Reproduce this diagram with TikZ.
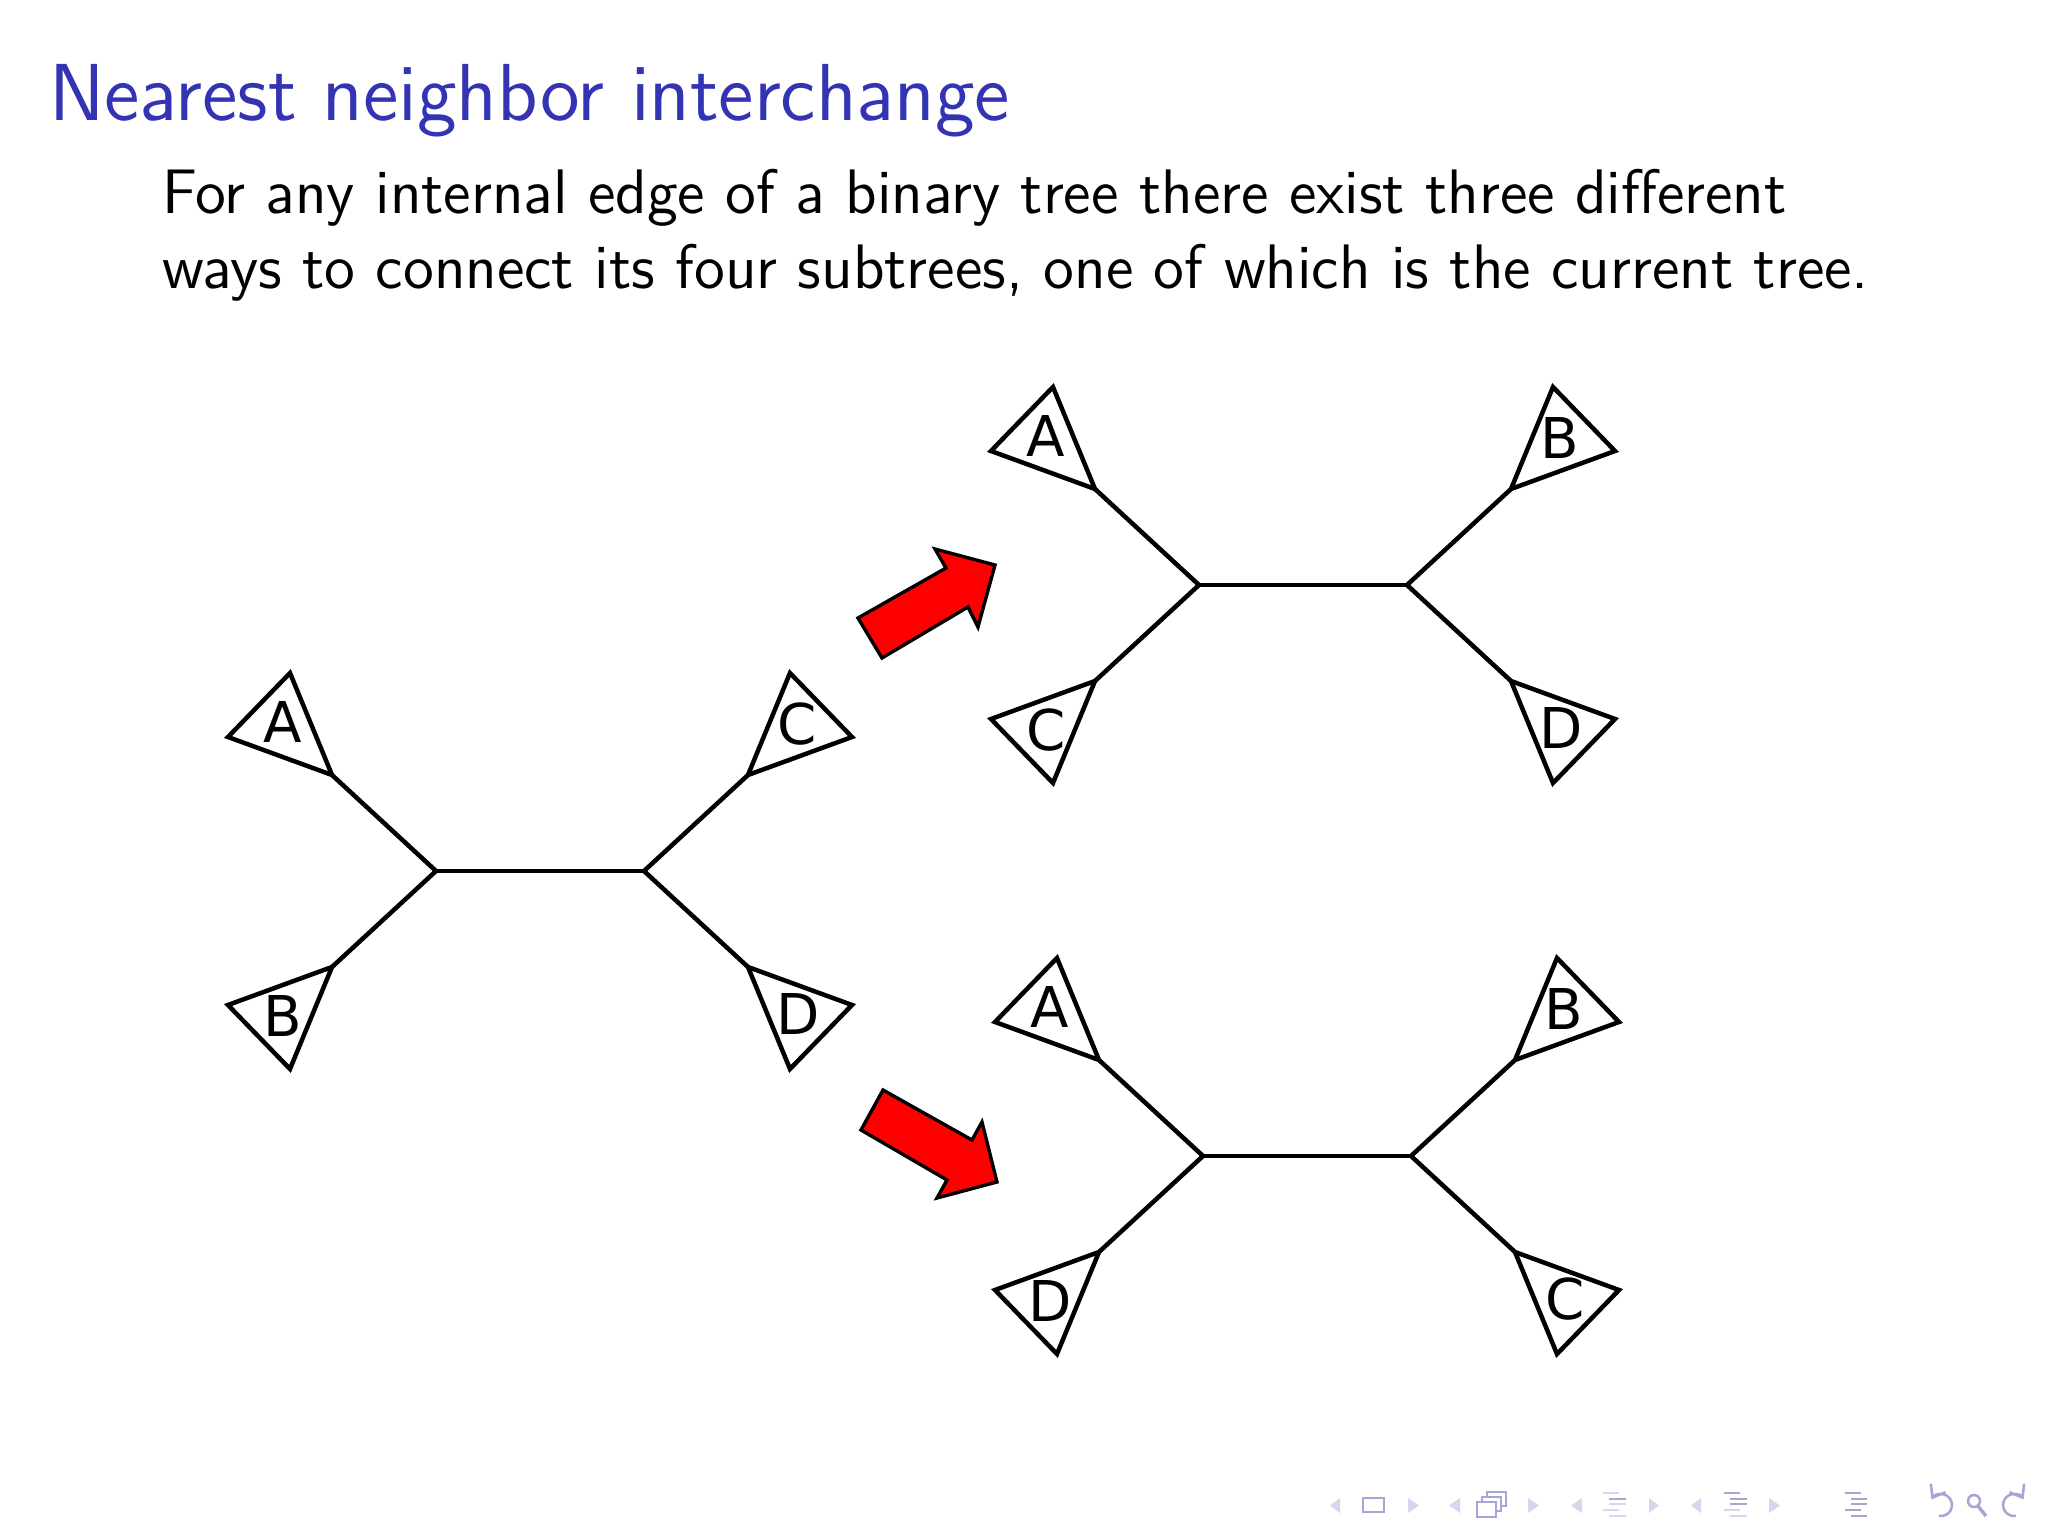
\documentclass[tikz,border=0pt]{standalone}
\usepackage{fontspec}
\newfontfamily\labfont{DejaVu Sans}
\usetikzlibrary{calc,arrows.meta}
\definecolor{beamerblue}{RGB}{51,51,179}
\definecolor{navlight}{RGB}{214,214,238}
\definecolor{navdark}{RGB}{166,166,214}
\definecolor{arrowred}{RGB}{255,0,0}
\tikzset{
  treeline/.style={line width=0.8pt, black},
  subtree/.style={line width=0.8pt, black, line join=miter},
  lab/.style={font=\labfont\fontsize{10}{11}\selectfont, inner sep=0pt},
  redarrow/.style={fill=arrowred, draw=black, line width=0.6pt, line join=miter},
  titletext/.style={font=\sffamily\fontsize{14.38}{17}\selectfont, text=beamerblue, inner sep=0pt, anchor=base west},
  bodytext/.style={font=\sffamily\fontsize{11.18}{13}\selectfont, text=black, inner sep=0pt, anchor=base west},
  navtri/.style={fill=navlight, draw=none},
  navicon/.style={draw=navdark, line width=0.35pt},
  navbar/.style={line width=0.45pt},
}
\newcommand\nnitree[7]{%
  \coordinate (#1L) at (#2,#3);
  \coordinate (#1R) at ({#2+208},#3);
  \coordinate (#1ul) at ({#2-104},{#3-96});
  \coordinate (#1ll) at ({#2-104},{#3+96});
  \coordinate (#1ur) at ({#2+312},{#3-96});
  \coordinate (#1lr) at ({#2+312},{#3+96});
  \draw[treeline] (#1L) -- (#1R);
  \draw[treeline] (#1L) -- (#1ul);
  \draw[treeline] (#1L) -- (#1ll);
  \draw[treeline] (#1R) -- (#1ur);
  \draw[treeline] (#1R) -- (#1lr);
  \draw[subtree] (#1ul) -- ++(-104,-38) -- ++(62,-64) -- cycle;
  \draw[subtree] (#1ll) -- ++(-104,38) -- ++(62,64) -- cycle;
  \draw[subtree] (#1ur) -- ++(104,-38) -- ++(-62,-64) -- cycle;
  \draw[subtree] (#1lr) -- ++(104,38) -- ++(-62,64) -- cycle;
  \node[lab] (#1la) at ($(#1ul)+(-49,-53)$) {#4};
  \node[lab] (#1lb) at ($(#1ll)+(-49,49)$) {#5};
  \node[lab] (#1lc) at ($(#1ur)+(49,-51)$) {#6};
  \node[lab] (#1ld) at ($(#1lr)+(50,47)$) {#7};
}
\begin{document}
\begin{tikzpicture}[x=0.0625mm, y=-0.0625mm]
\useasboundingbox (0,0) rectangle (2048,1536);
\fill[white] (0,0) rectangle (2048,1536);

% title and text
\node[titletext] (title) at (48,120) {Nearest neighbor interchange};
\node[bodytext] (line1) at (161,213) {For any internal edge of a binary tree there exist three different};
\node[bodytext] (line2) at (161,289) {ways to connect its four subtrees, one of which is the current tree.};

% trees
\nnitree{t}{436}{871}{A}{B}{C}{D}
\nnitree{u}{1199}{585}{A}{C}{B}{D}
\nnitree{v}{1203}{1156}{A}{D}{B}{C}

% red arrows
\draw[redarrow] (858,618) -- (946,568) -- (935,549) -- (995,565) -- (978,627) -- (968,607) -- (882,658) -- cycle;
\draw[redarrow] (883,1090) -- (972,1140) -- (982,1122) -- (997,1182) -- (937,1198) -- (947,1180) -- (861,1130) -- cycle;

% navigation symbols
\fill[navtri] (1340,1498) -- (1330,1505.5) -- (1340,1513) -- cycle;
\draw[navicon] (1363,1498) rectangle (1384,1512);
\fill[navtri] (1408,1498) -- (1419,1505.5) -- (1408,1513) -- cycle;
\fill[navtri] (1460,1498) -- (1449,1505.5) -- (1460,1513) -- cycle;
\draw[navicon, fill=white] (1487,1492) rectangle (1506,1506);
\draw[navicon, fill=white] (1482,1497) rectangle (1501,1511);
\draw[navicon, fill=white] (1477,1502) rectangle (1496,1517);
\fill[navtri] (1528,1498) -- (1539,1505.5) -- (1528,1513) -- cycle;
\fill[navtri] (1582,1498) -- (1571,1505.5) -- (1582,1513) -- cycle;
\draw[navbar, navlight] (1603,1493) -- (1619,1493);
\draw[navbar, navdark] (1609,1499) -- (1626,1499);
\draw[navbar, navlight] (1609,1504) -- (1626,1504);
\draw[navbar, navlight] (1603,1510) -- (1619,1510);
\draw[navbar, navlight] (1609,1516) -- (1626,1516);
\fill[navtri] (1649,1498) -- (1659,1505.5) -- (1649,1513) -- cycle;
\fill[navtri] (1701,1498) -- (1691,1505.5) -- (1701,1513) -- cycle;
\draw[navbar, navdark] (1724,1493) -- (1740,1493);
\draw[navbar, navdark] (1730,1499) -- (1747,1499);
\draw[navbar, navdark] (1730,1504) -- (1747,1504);
\draw[navbar, navlight] (1724,1510) -- (1740,1510);
\draw[navbar, navlight] (1730,1516) -- (1747,1516);
\fill[navtri] (1769,1498) -- (1780,1505.5) -- (1769,1513) -- cycle;
\draw[navbar, navdark] (1845,1493) -- (1861,1493);
\draw[navbar, navdark] (1851,1499) -- (1867,1499);
\draw[navbar, navdark] (1851,1504) -- (1867,1504);
\draw[navbar, navdark] (1845,1510) -- (1861,1510);
\draw[navbar, navdark] (1851,1516) -- (1867,1516);
\draw[navicon, line width=0.45pt, {Straight Barb[length=2pt,width=3pt]}-] ($(1941,1505)+(-150:11)$) arc[start angle=-150, end angle=100, radius=11];
\draw[navicon, line width=0.45pt] (1974,1501) circle[radius=6];
\draw[navicon, line width=0.6pt] (1978,1506) -- (1986,1516);
\draw[navicon, line width=0.45pt, {Straight Barb[length=2pt,width=3pt]}-] ($(2014,1505)+(-30:11)$) arc[start angle=-30, end angle=-280, radius=11];
\end{tikzpicture}
\end{document}
